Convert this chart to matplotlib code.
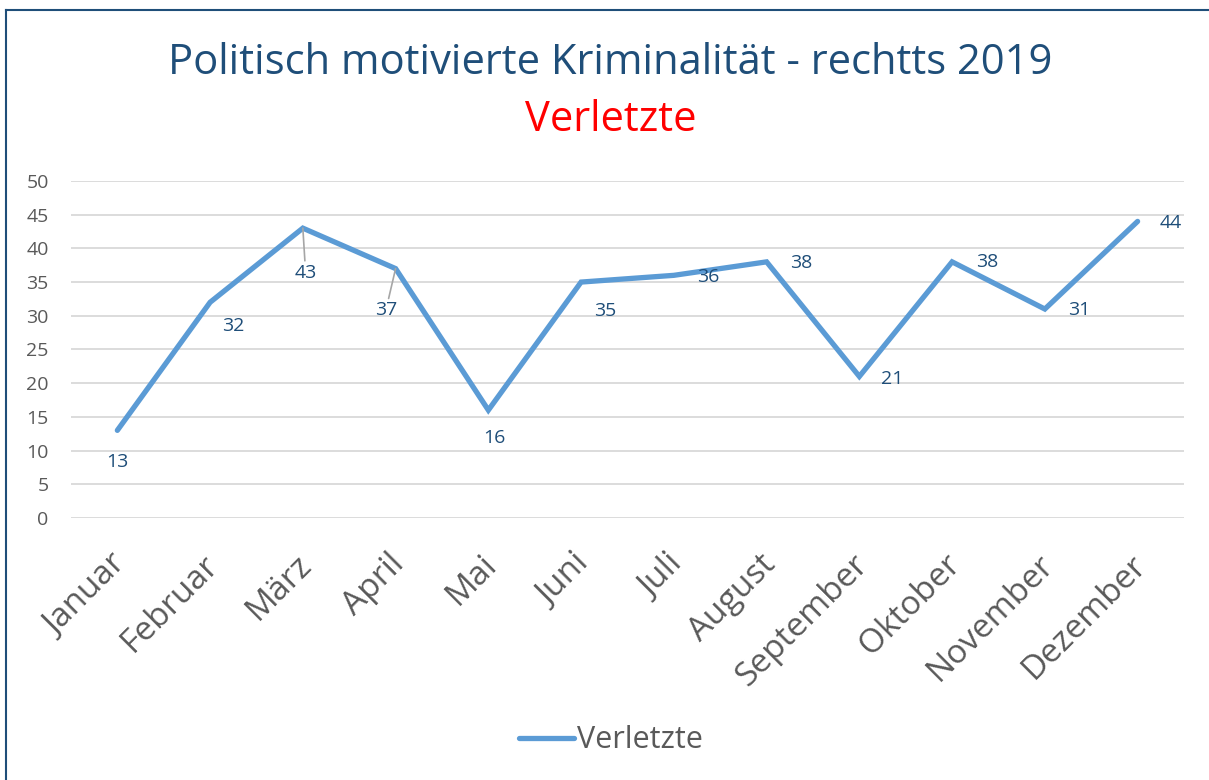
import matplotlib.pyplot as plt
import matplotlib.transforms as mtransforms
from matplotlib.lines import Line2D

# data
months = ["Januar", "Februar", "März", "April", "Mai", "Juni", "Juli",
          "August", "September", "Oktober", "November", "Dezember"]
verletzte = [13, 32, 43, 37, 16, 35, 36, 38, 21, 38, 31, 44]
yticks = [0, 5, 10, 15, 20, 25, 30, 35, 40, 45, 50]

# label offsets in points (dx, dy) and which labels get a leader line
label_offsets = [(0, -23), (17, -17), (2, -32), (-7, -30), (4, -20), (17, -21),
                 (25, -1), (25, -1), (24, -2), (25, 0), (25, -1), (24, -1)]
leader = [False, False, True, True, False, False, False, False, False, False, False, False]

plt.rcParams['font.family'] = ['Open Sans', 'DejaVu Sans']

fig = plt.figure(figsize=(12.09, 7.80), dpi=100)
ax = fig.add_axes([0.0587, 0.3359, 0.9206, 0.4321])

x = list(range(len(months)))
ax.plot(x, verletzte, color='#5B9BD5', linewidth=3.8, solid_capstyle='round',
        solid_joinstyle='miter', label='Verletzte', zorder=3)

for i, v in enumerate(verletzte):
    dx, dy = label_offsets[i]
    props = dict(arrowstyle='-', color='#A6A6A6', lw=1.2, shrinkA=0, shrinkB=0) if leader[i] else None
    ax.annotate(str(v), xy=(i, v), xytext=(dx, dy), textcoords='offset points',
                ha='center', va='center', fontsize=14, color='#1F4E79',
                arrowprops=props, zorder=4)

ax.set_xlim(-0.5, len(months) - 0.5)
ax.set_ylim(0, 50)
ax.set_yticks(yticks)
ax.set_xticks(x)
ax.set_xticklabels(months, rotation=45, ha='right', va='center', rotation_mode='anchor')
ax.tick_params(axis='y', length=0, pad=16, labelsize=14, labelcolor='#595959')
ax.tick_params(axis='x', length=0, pad=30, labelsize=24, labelcolor='#595959')
# nudge the month labels a little to the right
shift = mtransforms.ScaledTranslation(4 / 100, 0, fig.dpi_scale_trans)
for lbl in ax.get_xticklabels():
    lbl.set_transform(lbl.get_transform() + shift)
ax.grid(axis='y', color='#D9D9D9', linewidth=1.3)
ax.set_axisbelow(True)
for s in ax.spines.values():
    s.set_visible(False)

fig.text(0.505, 0.919, "Politisch motivierte Kriminalität - rechtts 2019",
         ha='center', va='center', fontsize=30, color='#1F4E79')
fig.text(0.505, 0.846, "Verletzte", ha='center', va='center', fontsize=30, color='#FF0000')

fig.legend(loc='center', bbox_to_anchor=(0.505, 0.051), frameon=False,
           fontsize=22, labelcolor='#595959', handlelength=1.8, handletextpad=0.1)

# border (left and top edges)
fig.add_artist(Line2D([6 / 1209, 6 / 1209], [0, 1 - 10 / 780], transform=fig.transFigure,
                      color='#1F4E79', linewidth=1.5))
fig.add_artist(Line2D([6 / 1209, 1], [1 - 10 / 780, 1 - 10 / 780], transform=fig.transFigure,
                      color='#1F4E79', linewidth=1.5))

fig.savefig('out.png', dpi=100)
